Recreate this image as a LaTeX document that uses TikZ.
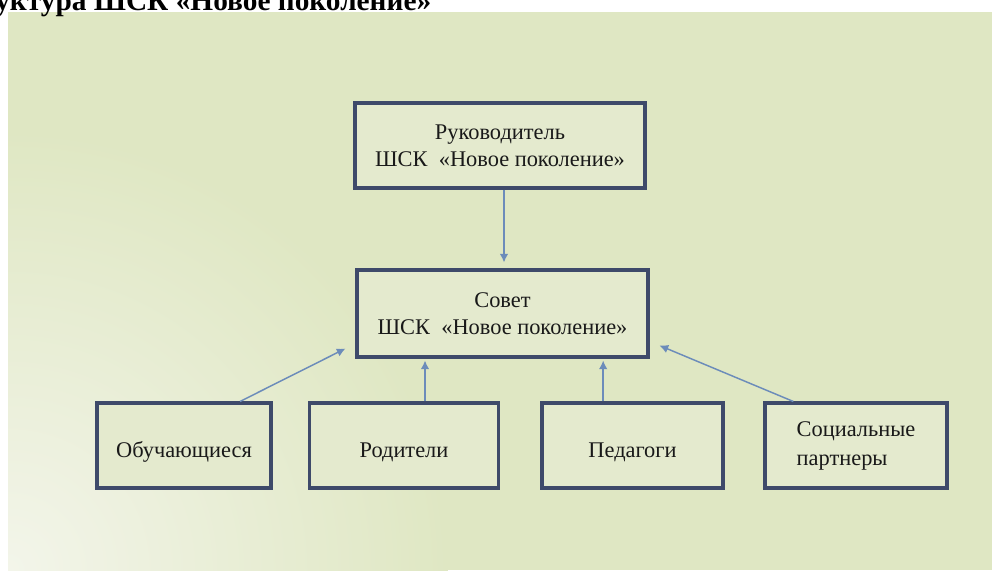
\documentclass[tikz,border=0pt]{standalone}
\usepackage{fontspec}
\setmainfont{Liberation Serif}
\usetikzlibrary{arrows.meta}
\definecolor{panelbg}{RGB}{223,231,195}
\definecolor{panellight}{RGB}{243,245,234}
\definecolor{boxfill}{RGB}{228,234,206}
\definecolor{boxline}{RGB}{62,74,106}
\definecolor{arrowcol}{RGB}{108,140,186}
\tikzset{
  orgbox/.style={draw=boxline, line width=2.3pt, fill=boxfill, rectangle,
    minimum height=63.75pt, inner sep=0pt, align=center,
    font=\fontsize{16.8}{20.5}\selectfont, text=black!90},
  onerow/.style={text height=20pt, text depth=2.75pt},
  link/.style={draw=arrowcol, line width=1.1pt, -{Latex[length=6.5pt,width=6.5pt]}}
}
\begin{document}
\begin{tikzpicture}[x=0.75pt,y=-0.75pt]
\useasboundingbox (0,0) rectangle (992,572);
\fill[white] (0,0) rectangle (992,572);
% panel with light corner
\begin{scope}
  \clip (8,12) rectangle (992,570);
  \fill[panelbg] (8,12) rectangle (992,570);
  \shade[inner color=panellight, outer color=panelbg] (8,570) circle (440);
\end{scope}
% title (cut at the top and left edges, as in the reference)
\node[anchor=base west, inner sep=0pt, font=\bfseries\fontsize{22}{24}\selectfont]
  (title) at (-5,10) {уктура ШСК «Новое поколение»};
% boxes
\node[orgbox, minimum width=217.5pt] (ruk) at (500,145.5)
  {Руководитель\\ ШСК\ \ «Новое поколение»};
\node[orgbox, minimum width=218.25pt, minimum height=65.25pt] (sov) at (502.5,313.5)
  {Совет\\ ШСК\ \ «Новое поколение»};
\node[orgbox, onerow, minimum width=130.5pt] (ob) at (184,445.5) {Обучающиеся};
\node[orgbox, onerow, minimum width=141.75pt] (rod) at (404,445.5) {Родители};
\node[orgbox, onerow, minimum width=135.75pt] (ped) at (632.5,445.5) {Педагоги};
\node[orgbox, minimum width=136.5pt, align=left,
  font=\fontsize{16.8}{21.75}\selectfont] (soc) at (856,445.5) {Социальные\\партнеры};
% free ends of the slanted arrows
\coordinate (obend) at ([xshift=-7.5pt,yshift=7.5pt]sov.south west);
\coordinate (socend) at ([xshift=7.5pt,yshift=9.75pt]sov.south east);
% connectors
\draw[link, shorten >=4.5pt] ([xshift=3pt]ruk.south) -- ([xshift=3pt]ruk.south |- sov.north);
\draw[link] ([xshift=42pt]ob.north) -- (obend);
\draw[link, shorten >=1.5pt] ([xshift=15.75pt]rod.north) -- ([xshift=15.75pt]rod.north |- sov.south);
\draw[link, shorten >=1.5pt] ([xshift=-22pt]ped.north) -- ([xshift=-22pt]ped.north |- sov.south);
\draw[link] ([xshift=-47pt]soc.north) -- (socend);
\end{tikzpicture}
\end{document}
